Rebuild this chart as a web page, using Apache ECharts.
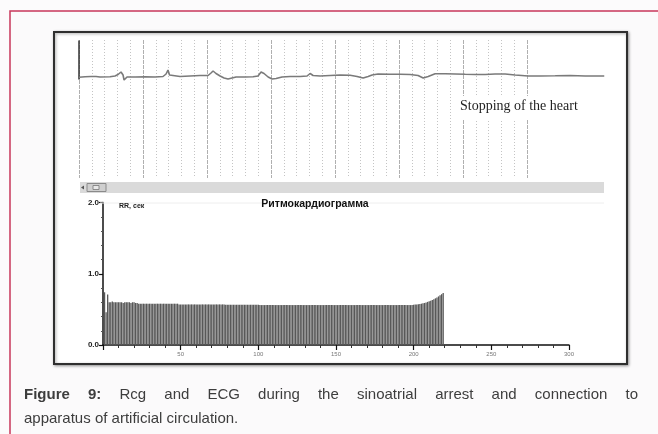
<!DOCTYPE html>
<html>
<head>
<meta charset="utf-8">
<script src="https://cdn.jsdelivr.net/npm/echarts@6/dist/echarts.min.js"></script>
<style>
html,body{margin:0;padding:0;background:#fcfbfc;}
#chart{position:absolute;left:0;top:0;width:658px;height:434px;}
.cap{position:absolute;left:24px;width:614px;font-family:"Liberation Sans",Arial,sans-serif;font-size:15px;color:#3d3d3d;line-height:24px;white-space:nowrap;}
#cap1{top:382px;text-align:justify;text-align-last:justify;white-space:normal;}
#cap2{top:406px;}
</style>
</head>
<body>
<div id="chart"></div>
<div class="cap" id="cap1"><b>Figure 9:</b> Rcg and ECG during the sinoatrial arrest and connection to</div>
<div class="cap" id="cap2">apparatus of artificial circulation.</div>
<script>
// ECG trace (time units, amplitude units)
var ecgTime = [0,0.47,0.94,1.09,1.33,1.64,2.42,2.81,3.05,3.20,3.28,3.36,3.44,3.52,3.63,3.75,4.38,5.16,5.94,6.56,6.80,6.95,7.07,7.19,7.89,8.67,9.45,10.08,10.31,10.47,10.70,11.02,11.33,11.64,11.95,12.27,12.97,13.59,13.98,14.22,14.45,14.77,15.08,15.39,15.86,16.48,17.27,17.81,18.05,18.28,18.83,19.61,20.39,21.17,21.72,22.19,22.58,22.89,23.36,24.30,25.08,25.86,26.48,26.88,27.27,27.81,28.59,29.38,30.16,30.94,31.72,32.50,33.28,34.06,35.08,36.02,37.19,38.36,39.53,41.02];
var ecgAmp = [-0.03,0.02,0.05,0.22,0.05,0,0.02,0.1,0.25,0.1,0.5,0.7,0.2,-0.3,-0.1,0,0,0.02,0,0.05,0.3,0.7,0.2,0.05,0.05,0.1,0.15,0.15,0.4,0.6,0.35,0.1,-0.1,-0.2,-0.1,0,0,0.02,0.1,0.5,0.35,0,-0.2,-0.15,0,0.05,0.05,0.1,0.35,0.15,0.1,0.15,0.2,0.17,0.05,-0.1,0.05,0.2,0.3,0.28,0.28,0.25,0.15,-0.1,0.05,0.32,0.32,0.3,0.27,0.25,0.25,0.3,0.3,0.2,0.1,0.1,0.12,0.15,0.1,0.1];

// Rhythmocardiogram: RR intervals, s (beat 1..219)
var rrValues = [
0.74,0.46,0.71,0.60,0.60,0.61,0.60,0.60,0.60,0.60,
0.60,0.60,0.59,0.60,0.60,0.60,0.60,0.59,0.60,0.60,
0.59,0.59,0.58,0.58,0.58,0.58,0.58,0.58,0.58,0.58,
0.58,0.58,0.58,0.58,0.58,0.58,0.58,0.58,0.58,0.58,
0.58,0.58,0.58,0.58,0.58,0.58,0.58,0.58,0.57,0.57,
0.57,0.57,0.57,0.57,0.57,0.57,0.57,0.57,0.57,0.57,
0.57,0.57,0.57,0.57,0.57,0.57,0.57,0.57,0.57,0.57,
0.57,0.57,0.57,0.57,0.57,0.57,0.57,0.57,0.565,0.565,
0.565,0.565,0.565,0.565,0.565,0.565,0.565,0.565,0.565,0.565,
0.565,0.565,0.565,0.565,0.565,0.565,0.565,0.565,0.565,0.565,
0.56,0.56,0.56,0.56,0.56,0.56,0.56,0.56,0.56,0.56,
0.56,0.56,0.56,0.56,0.56,0.56,0.56,0.56,0.56,0.56,
0.56,0.56,0.56,0.56,0.56,0.56,0.56,0.56,0.56,0.56,
0.56,0.56,0.56,0.56,0.56,0.56,0.56,0.56,0.56,0.56,
0.56,0.56,0.56,0.56,0.56,0.56,0.56,0.56,0.56,0.56,
0.56,0.56,0.56,0.56,0.56,0.56,0.56,0.56,0.56,0.56,
0.56,0.56,0.56,0.56,0.56,0.56,0.56,0.56,0.56,0.56,
0.56,0.56,0.56,0.56,0.56,0.56,0.56,0.56,0.56,0.56,
0.56,0.56,0.56,0.56,0.56,0.56,0.56,0.56,0.56,0.56,
0.56,0.56,0.56,0.56,0.56,0.56,0.56,0.56,0.56,0.565,
0.567,0.57,0.573,0.577,0.58,0.585,0.59,0.597,0.605,0.613,
0.622,0.632,0.643,0.655,0.668,0.682,0.697,0.713,0.73
];
var rcgTitle = 'Ритмокардиограмма';
var rrAxisName = 'RR, сек';
var ecgNote = 'Stopping of the heart';

var chart = echarts.init(document.getElementById('chart'), null, {renderer:'canvas'});
var ecgData = ecgTime.map(function(t,i){return [t, ecgAmp[i]];});
var rcgData = rrValues.map(function(v,i){return [i+1, v];});

var option = {
  animation:false,
  backgroundColor:'#fcfbfc',
  title:[
    {text:rcgTitle,left:310,top:194,textAlign:'center',textStyle:{fontFamily:'Liberation Sans',fontSize:10.5,fontWeight:'bold',color:'#111'}},
    {text:rrAxisName,left:114,top:198,textStyle:{fontFamily:'Liberation Sans',fontSize:7,fontWeight:'bold',color:'#222'}}
  ],
  graphic:[
    {type:'rect',z:-10,shape:{x:10,y:11,width:700,height:500},style:{fill:'#fbfafb',stroke:'#c8375b',lineWidth:1.5}},
    {type:'rect',z:-9,shape:{x:54,y:32,width:573,height:332},style:{fill:'#ffffff',stroke:'#2f2f2f',lineWidth:2,shadowBlur:3,shadowColor:'rgba(0,0,0,0.35)',shadowOffsetX:1,shadowOffsetY:1}},
    {type:'rect',z:5,shape:{x:80,y:182,width:524,height:11},style:{fill:'#dadada'}},
    {type:'polygon',z:6,shape:{points:[[81,187.5],[84,185.5],[84,189.5]]},style:{fill:'#555'}},
    {type:'rect',z:6,shape:{x:87,y:183.5,width:19,height:8},style:{fill:'#cfcfcf',stroke:'#8a8a8a',lineWidth:1}},
    {type:'rect',z:7,shape:{x:93,y:185.5,width:6,height:4},style:{fill:'#e8e8e8',stroke:'#777',lineWidth:0.8}},
    {type:'line',z:5,shape:{x1:100,y1:203,x2:604,y2:203},style:{stroke:'#eeeeee',lineWidth:1}},
    {type:'rect',z:20,shape:{x:458,y:96,width:120,height:24},style:{fill:'#ffffff'}},
    {type:'text',z:21,x:460,y:99,style:{text:ecgNote,font:'14px "Liberation Serif"',fill:'#1e1e1e'}}
  ],
  grid:[
    {left:79,top:41,width:525,height:38},
    {left:79,top:40,width:448,height:138},
    {left:103,top:202.5,width:466,height:142.5}
  ],
  xAxis:[
    {gridIndex:0,type:'value',min:0,max:41,show:false},
    {gridIndex:1,type:'value',min:0,max:35,interval:5,
      axisLine:{show:false},axisTick:{show:false},axisLabel:{show:false},
      splitLine:{show:true,lineStyle:{color:'#b0b0b0',width:1,type:[4,1]}},
      minorTick:{show:false,splitNumber:5},
      minorSplitLine:{show:true,lineStyle:{color:'#c4c4c4',width:1,type:[1,2]}}},
    {gridIndex:2,type:'value',min:0,max:300,interval:50,
      axisLine:{show:true,onZero:false,lineStyle:{color:'#111',width:1.5}},
      axisTick:{show:true,length:5,lineStyle:{color:'#111',width:1.2}},
      minorTick:{show:true,splitNumber:5,length:3,lineStyle:{color:'#333',width:1}},
      axisLabel:{show:true,showMinLabel:false,fontSize:6,color:'#777',margin:6,fontFamily:'Liberation Sans'},
      splitLine:{show:false}}
  ],
  yAxis:[
    {gridIndex:0,type:'value',min:-0.2,max:3.6,
      axisLine:{show:true,onZero:false,lineStyle:{color:'#333',width:1.5}},
      axisTick:{show:false},axisLabel:{show:false},splitLine:{show:false}},
    {gridIndex:1,type:'value',min:0,max:1,show:false,splitLine:{show:false}},
    {gridIndex:2,type:'value',min:0,max:2,interval:1,
      axisLine:{show:true,onZero:false,lineStyle:{color:'#111',width:1.5}},
      axisTick:{show:true,length:4,lineStyle:{color:'#111',width:1.2}},
      minorTick:{show:true,splitNumber:5,length:2,lineStyle:{color:'#555',width:1}},
      axisLabel:{show:true,fontSize:8,fontWeight:'bold',color:'#222',margin:4,fontFamily:'Liberation Sans',
        formatter:function(v){return v.toFixed(1);}},
      splitLine:{show:false}}
  ],
  series:[
    {type:'line',xAxisIndex:0,yAxisIndex:0,data:ecgData,symbol:'none',clip:false,
      lineStyle:{color:'#7a7a7a',width:1.6},z:10},
    {type:'bar',xAxisIndex:2,yAxisIndex:2,data:rcgData,barWidth:1.3,
      itemStyle:{color:'#585858'}}
  ]
};
chart.setOption(option);
</script>
</body>
</html>
